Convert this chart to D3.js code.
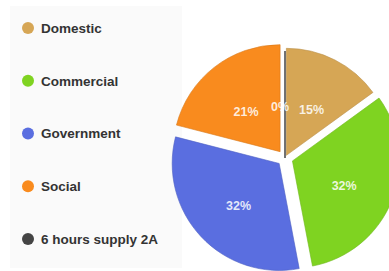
<!DOCTYPE html>
<html><head><meta charset="utf-8">
<script src="https://cdn.jsdelivr.net/npm/d3@7"></script>
<style>html,body{margin:0;padding:0;background:#fff;overflow:hidden}</style>
</head><body>
<svg id="c" width="389" height="271"></svg>
<script>
const categories = ["Domestic", "Commercial", "Government", "Social", "6 hours supply 2A"];
const values = [15, 32, 32, 21, 0];
const labels = ["15%", "32%", "32%", "21%", "0%"];
const colors = ["#d6a655", "#7fd321", "#5a6ee0", "#f98b1e", "#444444"];

const svg = d3.select("#c");
svg.append("rect").attr("x", 0).attr("y", 0).attr("width", 389).attr("height", 271).attr("fill", "#ffffff");
svg.append("rect").attr("x", 10).attr("y", 6).attr("width", 172).attr("height", 262).attr("fill", "#fafafa");

// legend
const legY = d3.scalePoint().domain(categories).range([28, 239]);
const leg = svg.append("g").selectAll("g").data(categories).join("g")
  .attr("transform", d => `translate(28,${legY(d)})`);
leg.append("circle").attr("r", 6).attr("fill", (d, i) => colors[i]);
leg.append("text").attr("x", 13).attr("dy", "0.36em")
  .attr("font-family", "Liberation Sans, Arial, sans-serif").attr("font-weight", "bold")
  .attr("font-size", 13.5).attr("fill", "#333").text(d => d);

// pie
const cx = 285, cy = 158, r = 107;
const explode = [3, 8, 8, 8, 0];
const pie = d3.pie().sort(null).value(d => d).startAngle(0).endAngle(2 * Math.PI);
const arcs = pie(values);
const arc = d3.arc().innerRadius(0).outerRadius(r);
const g = svg.append("g").attr("transform", `translate(${cx},${cy})`);
const off = (d, i) => {
  const a = (d.startAngle + d.endAngle) / 2;
  return [Math.sin(a) * explode[i], -Math.cos(a) * explode[i]];
};
g.selectAll("path").data(arcs).join("path")
  .attr("transform", (d, i) => { const o = off(d, i); return `translate(${o[0]},${o[1]})`; })
  .attr("d", arc)
  .attr("fill", (d, i) => colors[i])
  .attr("stroke", (d, i) => d.value === 0 ? colors[i] : d3.color(colors[i]).darker(0.4))
  .attr("stroke-width", (d, i) => d.value === 0 ? 1.5 : 0.6);

const labelArc = d3.arc().innerRadius(r * 0.52).outerRadius(r * 0.52);
g.selectAll("text").data(arcs).join("text")
  .attr("transform", (d, i) => {
    const o = off(d, i); const c = labelArc.centroid(d);
    return `translate(${c[0] + o[0] - (d.value === 0 ? 5 : 0)},${c[1] + o[1] + 4})`;
  })
  .attr("text-anchor", "middle").attr("dy", "0.35em")
  .attr("font-family", "Liberation Sans, Arial, sans-serif").attr("font-weight", "bold")
  .attr("font-size", 12.5).attr("fill", "#fff").attr("fill-opacity", 0.85)
  .text((d, i) => labels[i]);
</script>
</body></html>
